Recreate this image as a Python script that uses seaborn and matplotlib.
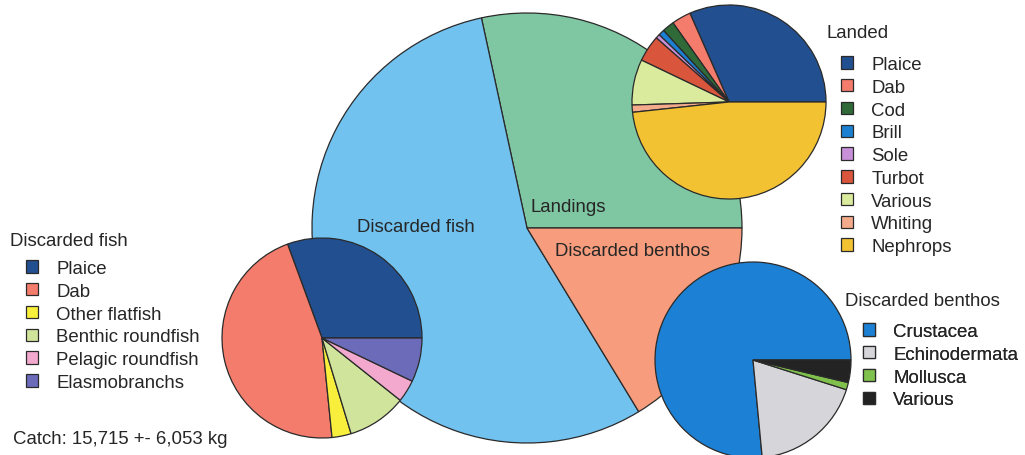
import matplotlib
matplotlib.use("Agg")
import matplotlib.pyplot as plt
import seaborn as sns

# shares of the catch (%)
catch_labels = ["Landings", "Discarded fish", "Discarded benthos"]
catch_share = [28.4, 55.3, 16.3]
catch_colors = ["#7fc6a2", "#72c2f0", "#f79c7c"]

landed_labels = ["Plaice", "Dab", "Cod", "Brill", "Sole", "Turbot",
                 "Various", "Whiting", "Nephrops"]
landed_share = [31.6, 3.2, 2.0, 1.0, 0.7, 4.4, 7.6, 1.2, 48.3]
landed_colors = ["#224f8f", "#f47c6c", "#2f6a38", "#1c80d2", "#c890d8",
                 "#d9553c", "#dbeb9e", "#f3ab8c", "#f2c233"]

fish_labels = ["Plaice", "Dab", "Other flatfish", "Benthic roundfish",
               "Pelagic roundfish", "Elasmobranchs"]
fish_share = [30.6, 46.0, 3.1, 9.6, 3.6, 7.1]
fish_colors = ["#224f8f", "#f47c6c", "#f8ef3c", "#d0e49c", "#f3a9cd", "#6b6bb9"]

benthos_labels = ["Crustacea", "Echinodermata", "Mollusca", "Various"]
benthos_share = [76.5, 18.6, 1.2, 3.7]
benthos_colors = ["#1c80d4", "#d5d5da", "#80c04c", "#232323"]

catch_note = "Catch: 15,715 +- 6,053 kg"

sns.set_style("white")
plt.rcParams["font.family"] = ["Liberation Sans", "DejaVu Sans"]

W, H = 1025, 456
FS = 13.4
fig = plt.figure(figsize=(W / 100, H / 100), dpi=100)
ax = fig.add_axes([0, 0, 1, 1])

edge = dict(edgecolor="#2a2a2a", linewidth=0.9)


def pie(values, colors, cx, cy, r):
    # cx, cy given in picture pixels (y from top)
    wedges, _ = ax.pie(values, colors=colors, center=(cx, H - cy), radius=r,
                       startangle=0, counterclock=True, wedgeprops=edge,
                       frame=True)
    return wedges


def legend(handles, labels, title, tx, ty, lx, ly):
    ax.text(tx, H - ty, title, fontsize=FS, ha="left", va="center")
    leg = ax.legend(handles, labels, loc="upper left",
                    bbox_to_anchor=(lx / W, 1 - ly / H), frameon=False,
                    fontsize=FS, handlelength=0.65, handleheight=0.65,
                    handletextpad=0.98, labelspacing=0.31, borderpad=0,
                    borderaxespad=0)
    ax.add_artist(leg)


pie(catch_share, catch_colors, 527, 229, 215)
landed = pie(landed_share, landed_colors, 729, 103, 97)
fish = pie(fish_share, fish_colors, 322, 339, 100)
benthos = pie(benthos_share, benthos_colors, 753, 361, 98)

ax.text(530, H - 207, catch_labels[0], fontsize=FS, ha="left", va="center")
ax.text(357, H - 227, catch_labels[1], fontsize=FS, ha="left", va="center")
ax.text(555, H - 252, catch_labels[2], fontsize=FS, ha="left", va="center")

legend(landed, landed_labels, "Landed", 826, 33, 841, 57)
legend(fish, fish_labels, "Discarded fish", 10, 241, 26, 261)
legend(benthos, benthos_labels, "Discarded benthos", 845, 301, 863, 324)

ax.text(13, H - 440, catch_note, fontsize=FS, ha="left", va="center")

ax.set_xlim(0, W)
ax.set_ylim(0, H)
ax.set_aspect("equal")
ax.axis("off")

fig.savefig("out.png", dpi=100, facecolor="white")
